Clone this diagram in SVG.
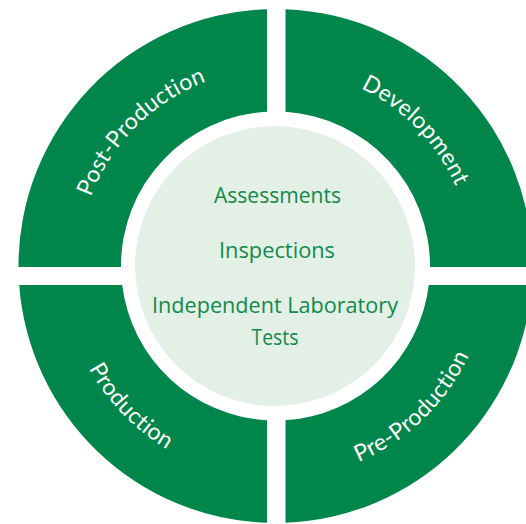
<svg xmlns="http://www.w3.org/2000/svg" width="526" height="524" viewBox="0 0 526 524">
<style>
.seg{fill:#00864A}
.lbl{font-family:"Lato","Open Sans",sans-serif;font-size:23px;fill:#ffffff;letter-spacing:0.3px}
.ctr{font-family:"Open Sans","Noto Sans",sans-serif;font-size:21.5px;fill:#118A4C;text-anchor:middle}
</style>
<defs>
<path id="pTL" d="M78.5,266 A197,197 0 0 1 275.5,69"/>
<path id="pTR" d="M275.5,69 A197,197 0 0 1 472.5,266"/>
<path id="pBL" d="M62.5,266 A213,213 0 0 0 275.5,479"/>
<path id="pBR" d="M275.5,479 A213,213 0 0 0 488.5,266"/>
</defs>
<rect width="526" height="524" fill="#ffffff"/>
<g id="post-production">
<path class="seg" d="M267,9.14 A257,257 0 0 0 18.5,267 L121,267 A154.5,154.5 0 0 1 267,111.73 Z"/>
<text class="lbl"><textPath href="#pTL" startOffset="50%" text-anchor="middle">Post-Production</textPath></text>
</g>
<g id="development">
<path class="seg" d="M285.5,9.19 A257,257 0 0 1 532.5,267 L430,267 A154.5,154.5 0 0 0 285.5,111.82 Z"/>
<text class="lbl"><textPath href="#pTR" startOffset="51%" text-anchor="middle">Development</textPath></text>
</g>
<g id="production">
<path class="seg" d="M19.2,285 A257,257 0 0 0 267,522.86 L267,420.27 A154.5,154.5 0 0 1 122.17,285 Z"/>
<text class="lbl"><textPath href="#pBL" startOffset="49%" text-anchor="middle">Production</textPath></text>
</g>
<g id="pre-production">
<path class="seg" d="M531.8,285 A257,257 0 0 1 285.5,522.81 L285.5,420.18 A154.5,154.5 0 0 0 428.83,285 Z"/>
<text class="lbl"><textPath href="#pBR" startOffset="49%" text-anchor="middle">Pre-Production</textPath></text>
</g>
<g id="center">
<circle cx="275" cy="266" r="140" fill="#E3F0E6"/>
<text class="ctr" x="277.5" y="203" textLength="127" lengthAdjust="spacingAndGlyphs">Assessments</text>
<text class="ctr" x="277" y="258" textLength="116" lengthAdjust="spacingAndGlyphs">Inspections</text>
<text class="ctr" x="275" y="313" textLength="246" lengthAdjust="spacingAndGlyphs">Independent Laboratory</text>
<text class="ctr" x="275" y="345" textLength="47" lengthAdjust="spacingAndGlyphs">Tests</text>
</g>
<g id="connectors"/>
</svg>
